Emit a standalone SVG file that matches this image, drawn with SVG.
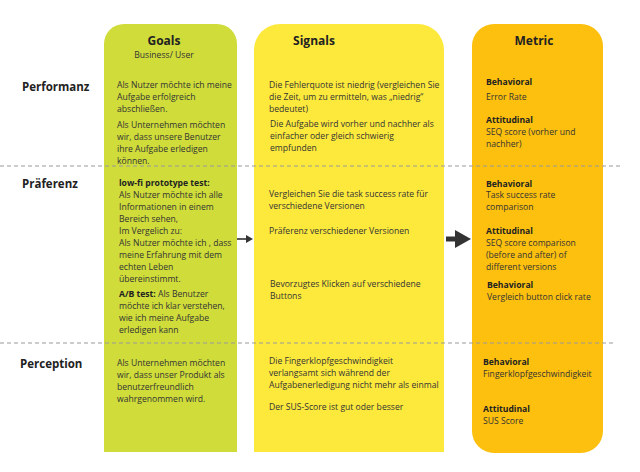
<svg xmlns="http://www.w3.org/2000/svg" width="640" height="472" viewBox="0 0 640 472">
<style>
text{font-family:"Open Sans","Liberation Sans",sans-serif;fill:#333;font-size:8.6px}
.h{font-size:12px;font-weight:bold;fill:#222}
.r{font-size:11.5px;font-weight:bold;fill:#222}
.b{font-weight:bold;fill:#222}
.d{stroke:#999;stroke-width:1;stroke-dasharray:4 3}
</style>
<rect width="640" height="472" fill="#fff"/>
<g id="goals"><path d="M104 452V44a20 20 0 0 1 20-20h93a20 20 0 0 1 20 20v408z" fill="#cfdc3a"/>
<text class="h" x="164" y="45" text-anchor="middle">Goals</text>
<text x="164" y="58" text-anchor="middle">Business/ User</text>
<text x="117" y="88">Als Nutzer möchte ich meine</text><text x="117" y="100">Aufgabe erfolgreich</text><text x="117" y="112">abschließen.</text>
<text x="117" y="128">Als Unternehmen möchten</text><text x="117" y="140">wir, dass unsere Benutzer</text><text x="117" y="152">ihre Aufgabe erledigen</text><text x="117" y="164">können.</text>
<text x="119" y="186" class="b">low-fi prototype test:</text><text x="119" y="198">Als Nutzer möchte ich alle</text><text x="119" y="210">Informationen in einem</text><text x="119" y="222">Bereich sehen,</text><text x="119" y="234">Im Vergelich zu:</text><text x="119" y="246">Als Nutzer möchte ich , dass</text><text x="119" y="258">meine Erfahrung mit dem</text><text x="119" y="270">echten Leben</text><text x="119" y="282">übereinstimmt.</text>
<text x="119" y="297"><tspan class="b">A/B test:</tspan> Als Benutzer</text><text x="119" y="309">möchte ich klar verstehen,</text><text x="119" y="321">wie ich meine Aufgabe</text><text x="119" y="333">erledigen kann</text>
<text x="117" y="366">Als Unternehmen möchten</text><text x="117" y="378">wir, dass unser Produkt als</text><text x="117" y="390">benutzerfreundlich</text><text x="117" y="402">wahrgenommen wird.</text>
</g>
<g id="signals"><path d="M254 452V50a26 26 0 0 1 26-26h138a26 26 0 0 1 26 26v402z" fill="#fde93c"/>
<text class="h" x="314" y="45" text-anchor="middle">Signals</text>
<text x="269" y="88">Die Fehlerquote ist niedrig (vergleichen Sie</text><text x="269" y="100">die Zeit, um zu ermitteln, was „niedrig“</text><text x="269" y="112">bedeutet)</text>
<text x="270" y="127">Die Aufgabe wird vorher und nachher als</text><text x="270" y="139">einfacher oder gleich schwierig</text><text x="270" y="151">empfunden</text>
<text x="269" y="197">Vergleichen Sie die task success rate für</text><text x="269" y="209">verschiedene Versionen</text>
<text x="269" y="234">Präferenz verschiedener Versionen</text>
<text x="270" y="287">Bevorzugtes Klicken auf verschiedene</text><text x="270" y="299">Buttons</text>
<text x="269" y="364">Die Fingerklopfgeschwindigkeit</text><text x="269" y="376">verlangsamt sich während der</text><text x="269" y="388">Aufgabenerledigung nicht mehr als einmal</text>
<text x="269" y="410">Der SUS-Score ist gut oder besser</text>
</g>
<g id="metric"><rect x="472" y="24" width="131" height="429" rx="22" fill="#fdc00e"/>
<text class="h" x="534" y="45" text-anchor="middle">Metric</text>
<text x="486" y="85" class="b">Behavioral</text><text x="486" y="100">Error Rate</text>
<text x="486" y="123" class="b">Attitudinal</text><text x="486" y="135">SEQ score (vorher und</text><text x="486" y="147">nachher)</text>
<text x="486" y="187" class="b">Behavioral</text><text x="486" y="198">Task success rate</text><text x="486" y="210">comparison</text>
<text x="486" y="234" class="b">Attitudinal</text><text x="486" y="246">SEQ score comparison</text><text x="486" y="258">(before and after) of</text><text x="486" y="270">different versions</text>
<text x="487" y="288" class="b">Behavioral</text><text x="487" y="300">Vergleich button click rate</text>
<text x="483" y="365" class="b">Behavioral</text><text x="483" y="377">Fingerklopfgeschwindigkeit</text>
<text x="483" y="412" class="b">Attitudinal</text><text x="483" y="424">SUS Score</text>
</g>
<g id="rows"><text class="r" x="22" y="91">Performanz</text><text class="r" x="22" y="188">Präferenz</text><text class="r" x="20" y="368">Perception</text></g>
<g id="connectors">
<line class="d" x1="0" y1="166" x2="620" y2="166"/><line class="d" x1="0" y1="343" x2="615" y2="343"/>
<path d="M237 239H248" stroke="#333" stroke-width="1.6"/><path d="M246 235L253 239L246 243z" fill="#333"/>
<path d="M446 239H460" stroke="#333" stroke-width="5"/><path d="M455 230L471 239L455 248z" fill="#333"/>
</g>
</svg>
